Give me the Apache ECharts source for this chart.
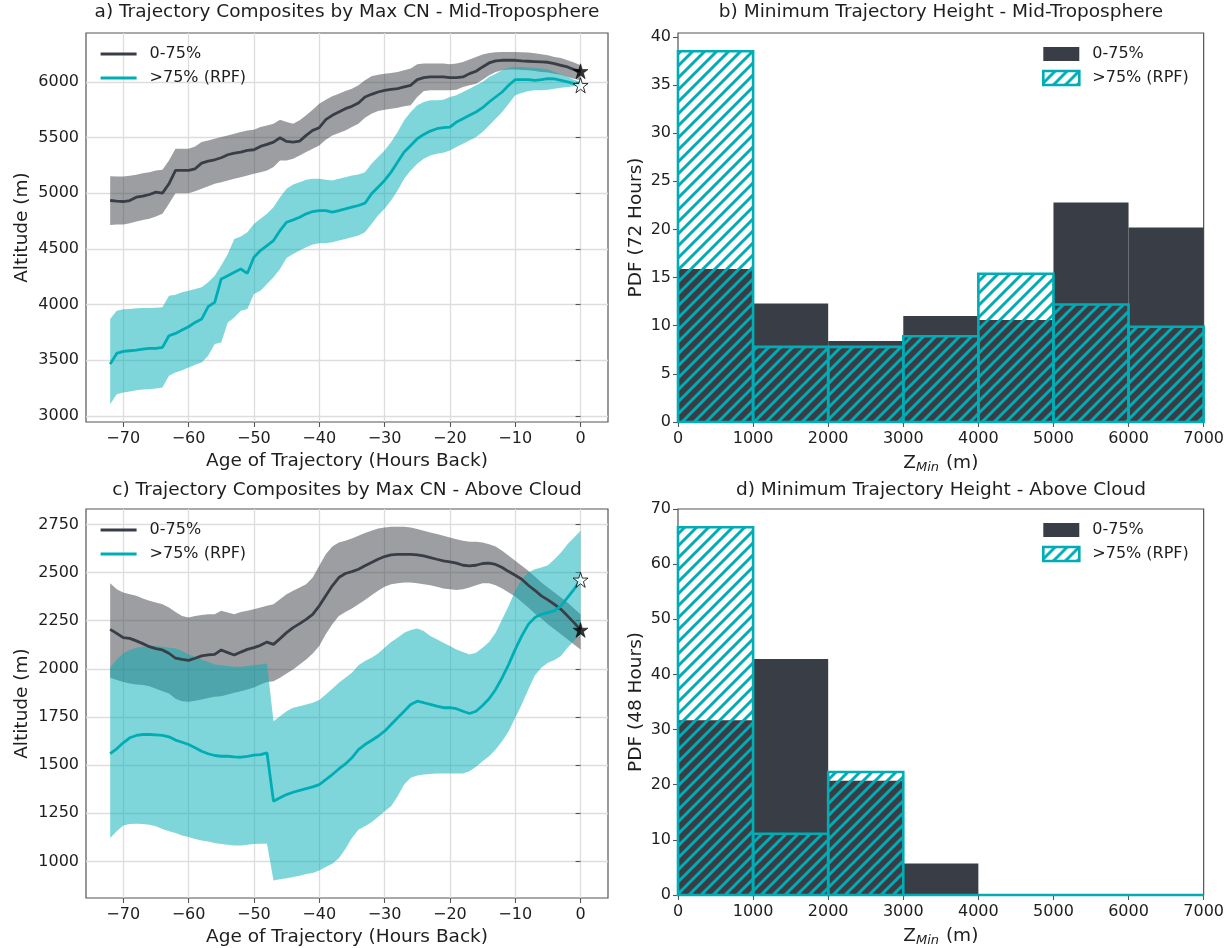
<!DOCTYPE html>
<html>
<head>
<meta charset="utf-8">
<script src="https://cdn.jsdelivr.net/npm/echarts@6/dist/echarts.min.js"></script>
<style>
  html, body { margin: 0; padding: 0; background: #ffffff; }
  #chart { width: 1227px; height: 948px; }
</style>
</head>
<body>
<div id="chart"></div>
<script>
// ---------------------------------------------------------------
// Data
// ---------------------------------------------------------------
// Hours back along the trajectory (x values of the composites)
const hours = [
  -72, -71, -70, -69, -68, -67, -66, -65, -64, -63,
  -62, -61, -60, -59, -58, -57, -56, -55, -54, -53,
  -52, -51, -50, -49, -48, -47, -46, -45, -44, -43,
  -42, -41, -40, -39, -38, -37, -36, -35, -34, -33,
  -32, -31, -30, -29, -28, -27, -26, -25, -24, -23,
  -22, -21, -20, -19, -18, -17, -16, -15, -14, -13,
  -12, -11, -10, -9, -8, -7, -6, -5, -4, -3,
  -2, -1, 0
];

// a) Mid-troposphere composites, altitude (m)
const midLowMean = [
  4935, 4929, 4926, 4935, 4965, 4974, 4989, 5010, 5001, 5085,
  5205, 5205, 5205, 5220, 5271, 5289, 5301, 5319, 5346, 5361,
  5370, 5385, 5391, 5421, 5439, 5460, 5499, 5466, 5460, 5469,
  5520, 5565, 5589, 5661, 5700, 5730, 5760, 5781, 5811, 5865,
  5889, 5910, 5925, 5934, 5940, 5955, 5970, 6021, 6039, 6045,
  6045, 6045, 6039, 6039, 6045, 6075, 6096, 6135, 6171, 6189,
  6195, 6195, 6195, 6189, 6186, 6183, 6180, 6177, 6165, 6150,
  6135, 6111, 6096
];
const midLowUpper = [
  5154, 5151, 5151, 5157, 5166, 5181, 5190, 5205, 5211, 5295,
  5400, 5400, 5400, 5421, 5460, 5475, 5490, 5505, 5520, 5535,
  5550, 5565, 5571, 5595, 5610, 5625, 5661, 5640, 5625, 5655,
  5700, 5751, 5805, 5841, 5871, 5895, 5919, 5940, 5970, 6015,
  6051, 6066, 6075, 6081, 6090, 6105, 6120, 6159, 6165, 6165,
  6165, 6165, 6159, 6165, 6180, 6201, 6225, 6246, 6261, 6267,
  6270, 6270, 6270, 6267, 6264, 6258, 6249, 6240, 6225, 6216,
  6195, 6174, 6150
];
const midLowLower = [
  4716, 4719, 4719, 4731, 4746, 4761, 4770, 4791, 4815, 4905,
  5001, 5001, 5001, 5019, 5040, 5064, 5085, 5100, 5115, 5130,
  5145, 5160, 5175, 5190, 5205, 5235, 5295, 5295, 5310, 5340,
  5370, 5400, 5430, 5481, 5520, 5541, 5565, 5595, 5625, 5679,
  5715, 5739, 5751, 5760, 5769, 5781, 5790, 5865, 5919, 5925,
  5925, 5925, 5925, 5931, 5955, 5970, 5985, 6021, 6060, 6090,
  6105, 6111, 6111, 6108, 6105, 6099, 6090, 6084, 6075, 6066,
  6045, 6030, 6015
];
const midRpfMean = [
  3465, 3561, 3579, 3585, 3591, 3600, 3606, 3606, 3615, 3720,
  3741, 3771, 3801, 3840, 3870, 3981, 4020, 4230, 4260, 4290,
  4320, 4281, 4425, 4485, 4530, 4575, 4665, 4740, 4761, 4785,
  4815, 4836, 4845, 4845, 4830, 4845, 4860, 4875, 4890, 4911,
  4995, 5055, 5115, 5190, 5280, 5370, 5430, 5490, 5529, 5559,
  5580, 5589, 5595, 5640, 5670, 5700, 5730, 5769, 5820, 5865,
  5910, 5970, 6021, 6021, 6021, 6015, 6021, 6030, 6027, 6015,
  6000, 5985, 5970
];
const midRpfUpper = [
  3870, 3945, 3957, 3960, 3966, 3969, 3969, 3972, 3975, 4080,
  4089, 4110, 4125, 4140, 4155, 4200, 4260, 4350, 4455, 4590,
  4611, 4650, 4725, 4770, 4815, 4875, 4965, 5040, 5079, 5100,
  5121, 5130, 5130, 5121, 5115, 5130, 5145, 5160, 5169, 5190,
  5265, 5325, 5385, 5460, 5550, 5655, 5730, 5790, 5820, 5835,
  5835, 5841, 5865, 5880, 5910, 5940, 5970, 6000, 6045, 6075,
  6105, 6129, 6135, 6135, 6129, 6126, 6120, 6111, 6090, 6069,
  6045, 6021, 6000
];
const midRpfLower = [
  3105, 3195, 3210, 3219, 3231, 3237, 3240, 3246, 3255, 3360,
  3390, 3411, 3435, 3459, 3480, 3540, 3645, 3660, 3840, 3885,
  3945, 3960, 4095, 4125, 4185, 4245, 4320, 4419, 4455, 4485,
  4515, 4539, 4551, 4551, 4560, 4575, 4590, 4605, 4620, 4650,
  4725, 4800, 4860, 4935, 5025, 5130, 5205, 5265, 5310, 5340,
  5355, 5364, 5385, 5415, 5445, 5475, 5505, 5550, 5610, 5670,
  5730, 5805, 5880, 5901, 5919, 5925, 5925, 5931, 5940, 5949,
  5955, 5961, 5970
];

// c) Above-cloud composites, altitude (m)
const aboveLowMean = [
  2205, 2184, 2162, 2158, 2145, 2131, 2115, 2105, 2098, 2081,
  2055, 2049, 2044, 2055, 2067, 2072, 2075, 2098, 2084, 2072,
  2087, 2101, 2110, 2122, 2139, 2127, 2157, 2188, 2214, 2235,
  2257, 2283, 2327, 2379, 2431, 2474, 2495, 2505, 2517, 2535,
  2552, 2569, 2583, 2592, 2594, 2594, 2594, 2592, 2587, 2578,
  2569, 2561, 2556, 2549, 2538, 2535, 2538, 2547, 2549, 2542,
  2526, 2505, 2486, 2465, 2434, 2408, 2379, 2358, 2335, 2309,
  2275, 2240, 2202
];
const aboveLowUpper = [
  2445, 2413, 2396, 2387, 2379, 2365, 2353, 2344, 2335, 2318,
  2295, 2275, 2266, 2275, 2280, 2283, 2283, 2301, 2292, 2283,
  2295, 2301, 2309, 2318, 2327, 2335, 2361, 2387, 2405, 2422,
  2439, 2474, 2535, 2595, 2635, 2656, 2665, 2677, 2691, 2705,
  2717, 2729, 2734, 2738, 2738, 2738, 2734, 2726, 2717, 2708,
  2700, 2691, 2682, 2673, 2665, 2660, 2660, 2656, 2647, 2635,
  2613, 2587, 2561, 2535, 2509, 2479, 2448, 2422, 2396, 2370,
  2344, 2313, 2283
];
const aboveLowLower = [
  1954, 1942, 1931, 1924, 1919, 1916, 1910, 1897, 1884, 1872,
  1845, 1832, 1829, 1834, 1841, 1848, 1855, 1858, 1867, 1876,
  1884, 1893, 1903, 1919, 1931, 1936, 1954, 1976, 1997, 2023,
  2049, 2080, 2118, 2179, 2231, 2275, 2295, 2313, 2335, 2358,
  2382, 2405, 2426, 2439, 2445, 2448, 2448, 2445, 2439, 2434,
  2426, 2417, 2413, 2410, 2413, 2422, 2434, 2445, 2445, 2434,
  2417, 2396, 2375, 2347, 2318, 2288, 2261, 2231, 2205, 2179,
  2153, 2127, 2101
];
const aboveRpfMean = [
  1560, 1585, 1616, 1642, 1654, 1659, 1659, 1657, 1654, 1647,
  1630, 1619, 1607, 1590, 1572, 1559, 1550, 1546, 1546, 1543,
  1541, 1546, 1552, 1555, 1564, 1312, 1330, 1347, 1359, 1369,
  1378, 1387, 1399, 1425, 1451, 1480, 1506, 1538, 1581, 1607,
  1628, 1650, 1676, 1711, 1746, 1780, 1815, 1832, 1824, 1815,
  1806, 1798, 1798, 1793, 1780, 1768, 1780, 1810, 1845, 1893,
  1954, 2023, 2101, 2171, 2231, 2266, 2283, 2292, 2301, 2327,
  2370, 2413, 2462
];
const aboveRpfUpper = [
  2006, 2049, 2080, 2098, 2110, 2115, 2119, 2119, 2115, 2110,
  2105, 2093, 2075, 2063, 2049, 2035, 2023, 2018, 2015, 2011,
  2011, 2015, 2018, 2023, 2028, 1728, 1754, 1780, 1798, 1806,
  1815, 1824, 1838, 1867, 1897, 1928, 1954, 1980, 2018, 2041,
  2058, 2080, 2110, 2139, 2162, 2188, 2202, 2209, 2197, 2171,
  2153, 2136, 2119, 2101, 2087, 2075, 2084, 2110, 2139, 2188,
  2257, 2327, 2405, 2465, 2500, 2517, 2526, 2538, 2569, 2604,
  2647, 2682, 2717
];
const aboveRpfLower = [
  1122, 1156, 1186, 1194, 1196, 1194, 1191, 1182, 1168, 1156,
  1148, 1134, 1127, 1116, 1108, 1104, 1095, 1090, 1087, 1083,
  1083, 1087, 1090, 1092, 1092, 901, 908, 913, 919, 926,
  934, 940, 953, 971, 988, 1017, 1064, 1122, 1165, 1182,
  1203, 1231, 1260, 1286, 1338, 1399, 1434, 1446, 1451, 1454,
  1456, 1456, 1456, 1456, 1456, 1468, 1491, 1520, 1546, 1581,
  1624, 1676, 1746, 1815, 1893, 1966, 2006, 2032, 2046, 2067,
  2110, 2145, 2184
];

// b), d) Histograms of minimum trajectory height
const binEdges = [0, 1000, 2000, 3000, 4000, 5000, 6000, 7000];
const pdfMidLow = [15.9, 12.3, 8.4, 11.0, 10.6, 22.8, 20.2];
const pdfMidRpf = [38.5, 7.8, 7.8, 8.9, 15.4, 12.2, 9.9];
const pdfAboveLow = [31.7, 42.8, 20.7, 5.7, 0, 0, 0];
const pdfAboveRpf = [66.7, 11.1, 22.3, 0, 0, 0, 0];

// Tick labels
const hourTicks = [-70, -60, -50, -40, -30, -20, -10, 0];
const altTicksMid = [3000, 3500, 4000, 4500, 5000, 5500, 6000];
const altTicksAbove = [1000, 1250, 1500, 1750, 2000, 2250, 2500, 2750];
const zTicks = [0, 1000, 2000, 3000, 4000, 5000, 6000, 7000];
const pdfTicksMid = [0, 5, 10, 15, 20, 25, 30, 35, 40];
const pdfTicksAbove = [0, 10, 20, 30, 40, 50, 60, 70];

const nameLow = '0-75%';
const nameRpf = '>75% (RPF)';

// ---------------------------------------------------------------
// Styles
// ---------------------------------------------------------------
const DARK = '#393E46';
const TEAL = '#00ADB5';
const FONT = 'DejaVu Sans';
const TXT = '#1e1e1e';
const AX = '#555555';

// diagonal hatch texture for the RPF histogram bars
function makeHatch() {
  const s = 12;
  const c = document.createElement('canvas');
  c.width = s; c.height = s;
  const g = c.getContext('2d');
  g.strokeStyle = TEAL;
  g.lineWidth = 3;
  g.lineCap = 'square';
  g.beginPath();
  g.moveTo(0, s); g.lineTo(s, 0);
  g.moveTo(-s / 2, s / 2); g.lineTo(s / 2, -s / 2);
  g.moveTo(s / 2, s * 1.5); g.lineTo(s * 1.5, s / 2);
  g.stroke();
  return { image: c, repeat: 'repeat' };
}
const hatch = makeHatch();

const STAR = 'path://M50,0L61.2,34.5L97.6,34.5L68.2,55.9L79.4,90.5L50,69.1L20.6,90.5L31.8,55.9L2.4,34.5L38.8,34.5Z';

// ---------------------------------------------------------------
// Helpers
// ---------------------------------------------------------------
const pairs = (xs, ys) => xs.map((x, i) => [x, ys[i]]);
const onTicks = (ticks) => (v) => (ticks.indexOf(Math.round(v * 1000) / 1000) >= 0);

const grids = [
  { left: 86, top: 33, width: 522, height: 389 },
  { left: 678, top: 33, width: 526, height: 389 },
  { left: 86, top: 509, width: 522, height: 389 },
  { left: 678, top: 509, width: 526, height: 389 }
].map(g => Object.assign({ show: true, borderColor: AX, borderWidth: 1.2, backgroundColor: 'transparent', containLabel: false }, g));

const labelStyle = { fontFamily: FONT, fontSize: 16, color: TXT };
const nameStyle = { fontFamily: FONT, fontSize: 18.5, color: TXT };

function valueAxis(opt) {
  const ticks = opt.ticks;
  const keep = onTicks(ticks);
  return {
    type: 'value',
    gridIndex: opt.grid,
    min: opt.min,
    max: opt.max,
    name: opt.name,
    nameLocation: 'middle',
    nameGap: opt.nameGap,
    nameTextStyle: opt.nameTextStyle || nameStyle,
    axisLine: { show: false },
    axisTick: { show: true, inside: false, length: 5, lineStyle: { color: AX, width: 1.1 }, customValues: ticks },
    axisLabel: Object.assign({
      customValues: ticks,
      margin: opt.labelMargin,
      formatter: (v) => keep(v) ? String(v).replace('-', '\u2212') : ''
    }, labelStyle),
    splitLine: { show: !!opt.gridLines, lineStyle: { color: '#dddddd', width: 1.3 } },
    minInterval: opt.step,
    maxInterval: opt.step
  };
}

const zName = () => Object.assign({
  rich: { sub: { fontFamily: FONT, fontSize: 13, fontStyle: 'italic', color: TXT, padding: [9, 1, 0, 0] } }
}, nameStyle);

const xAxes = [
  valueAxis({ grid: 0, min: -75.7, max: 4.2, ticks: hourTicks, step: 10, name: 'Age of Trajectory (Hours Back)', nameGap: 30, labelMargin: 9, gridLines: true }),
  valueAxis({ grid: 1, min: 0, max: 7000, ticks: zTicks, step: 1000, name: 'Z{sub|Min} (m)', nameGap: 30, labelMargin: 9, nameTextStyle: zName() }),
  valueAxis({ grid: 2, min: -75.7, max: 4.2, ticks: hourTicks, step: 10, name: 'Age of Trajectory (Hours Back)', nameGap: 30, labelMargin: 9, gridLines: true }),
  valueAxis({ grid: 3, min: 0, max: 7000, ticks: zTicks, step: 1000, name: 'Z{sub|Min} (m)', nameGap: 30, labelMargin: 9, nameTextStyle: zName() })
];
const yAxes = [
  valueAxis({ grid: 0, min: 2945, max: 6440, ticks: altTicksMid, step: 500, name: 'Altitude (m)', nameGap: 54, labelMargin: 7, gridLines: true }),
  valueAxis({ grid: 1, min: 0, max: 40.4, ticks: pdfTicksMid, step: 5, name: 'PDF (72 Hours)', nameGap: 32, labelMargin: 7 }),
  valueAxis({ grid: 2, min: 810, max: 2830, ticks: altTicksAbove, step: 250, name: 'Altitude (m)', nameGap: 54, labelMargin: 7, gridLines: true }),
  valueAxis({ grid: 3, min: 0, max: 70, ticks: pdfTicksAbove, step: 10, name: 'PDF (48 Hours)', nameGap: 32, labelMargin: 7 })
];

// shaded spread band between the lower and upper curves, drawn as one polygon
function band(axis, lo, hi, color) {
  return {
    type: 'custom', xAxisIndex: axis, yAxisIndex: axis, silent: true,
    data: hours.map((h, i) => [h, lo[i], hi[i]]),
    encode: { x: 0, y: [1, 2] },
    renderItem: (params, api) => {
      if (params.dataIndex !== 0) return null;
      const top = hours.map((h, i) => api.coord([h, hi[i]]));
      const bottom = hours.map((h, i) => api.coord([h, lo[i]])).reverse();
      return { type: 'polygon', shape: { points: top.concat(bottom) }, style: { fill: color } };
    }
  };
}

function meanLine(axis, name, ys, color) {
  return {
    type: 'line', name: name, xAxisIndex: axis, yAxisIndex: axis,
    data: pairs(hours, ys), symbol: 'none', silent: true,
    lineStyle: { color: color, width: 2.8 }, itemStyle: { color: color },
    emphasis: { disabled: true }
  };
}

function stars(axis, lowVals, rpfVals) {
  const last = hours.length - 1;
  return [
    { type: 'scatter', xAxisIndex: axis, yAxisIndex: axis, symbol: STAR, symbolSize: 15, silent: true, z: 5,
      data: [[hours[last], lowVals[last]]], itemStyle: { color: '#000000', borderColor: '#000000', borderWidth: 0.6 } },
    { type: 'scatter', xAxisIndex: axis, yAxisIndex: axis, symbol: STAR, symbolSize: 15, silent: true, z: 5,
      data: [[hours[last], rpfVals[last]]], itemStyle: { color: '#ffffff', borderColor: '#000000', borderWidth: 1 } }
  ];
}

function histItems(vals) {
  return vals.map((v, i) => [binEdges[i], binEdges[i + 1], v]);
}

function histSeries(axis, name, vals, hatched) {
  return {
    type: 'custom', name: name, xAxisIndex: axis, yAxisIndex: axis,
    data: histItems(vals), encode: { x: [0, 1], y: 2 }, silent: true,
    itemStyle: hatched ? { color: hatch, borderColor: TEAL, borderWidth: 2.6 } : { color: DARK },
    renderItem: (params, api) => {
      const tl = api.coord([api.value(0), api.value(2)]);
      const br = api.coord([api.value(1), 0]);
      return {
        type: 'rect',
        shape: { x: tl[0], y: tl[1], width: br[0] - tl[0], height: br[1] - tl[1] },
        style: hatched ? { fill: hatch, stroke: TEAL, lineWidth: 2.6 } : { fill: DARK }
      };
    }
  };
}

const series = [].concat(
  [band(0, midLowLower, midLowUpper, 'rgba(57,62,70,0.5)'),
   band(0, midRpfLower, midRpfUpper, 'rgba(0,173,181,0.5)'),
   meanLine(0, nameLow, midLowMean, DARK),
   meanLine(0, nameRpf, midRpfMean, TEAL)],
  stars(0, midLowMean, midRpfMean),

  [histSeries(1, 'Zmin ' + nameLow, pdfMidLow, false),
   histSeries(1, 'Zmin ' + nameRpf, pdfMidRpf, true)],

  [band(2, aboveLowLower, aboveLowUpper, 'rgba(57,62,70,0.5)'),
   band(2, aboveRpfLower, aboveRpfUpper, 'rgba(0,173,181,0.5)'),
   meanLine(2, nameLow, aboveLowMean, DARK),
   meanLine(2, nameRpf, aboveRpfMean, TEAL)],
  stars(2, aboveLowMean, aboveRpfMean),

  [histSeries(3, 'Zmin ' + nameLow, pdfAboveLow, false),
   histSeries(3, 'Zmin ' + nameRpf, pdfAboveRpf, true)]
);

const legendText = { fontFamily: FONT, fontSize: 16, color: TXT, lineHeight: 18, padding: [0, 0, 0, 8] };

// line legend: keep the stroke, hide the marker in the middle of it
function lineLegend(top) {
  return {
    left: 99, top: top, orient: 'vertical', padding: 0, itemGap: 6,
    itemWidth: 36, itemHeight: 14, selectedMode: false,
    textStyle: legendText,
    itemStyle: { opacity: 0, borderWidth: 0 },
    lineStyle: { width: 3.2 },
    data: [nameLow, nameRpf]
  };
}
function histLegend(top) {
  return {
    left: 1042, top: top, orient: 'vertical', padding: 0, itemGap: 6,
    itemWidth: 36, itemHeight: 14, selectedMode: false,
    textStyle: legendText,
    formatter: (n) => n.replace('Zmin ', ''),
    data: [
      { name: 'Zmin ' + nameLow, icon: 'rect', itemStyle: { color: DARK, borderWidth: 0 } },
      { name: 'Zmin ' + nameRpf, icon: 'rect', itemStyle: { color: hatch, borderColor: TEAL, borderWidth: 2.6 } }
    ]
  };
}

const titleStyle = { fontFamily: FONT, fontSize: 18.5, fontWeight: 'normal', color: TXT };
const titles = [
  { text: 'a) Trajectory Composites by Max CN - Mid-Troposphere', left: 347, top: 3 },
  { text: 'b) Minimum Trajectory Height - Mid-Troposphere', left: 941, top: 3 },
  { text: 'c) Trajectory Composites by Max CN - Above Cloud', left: 347, top: 481 },
  { text: 'd) Minimum Trajectory Height - Above Cloud', left: 941, top: 481 }
].map(t => Object.assign({ textAlign: 'center', padding: 0, textStyle: titleStyle }, t));

const chart = echarts.init(document.getElementById('chart'), null, { renderer: 'canvas' });
chart.setOption({
  animation: false,
  backgroundColor: '#ffffff',
  title: titles,
  grid: grids,
  xAxis: xAxes,
  yAxis: yAxes,
  legend: [lineLegend(45), histLegend(45), lineLegend(521), histLegend(521)],
  series: series
});
</script>
</body>
</html>
